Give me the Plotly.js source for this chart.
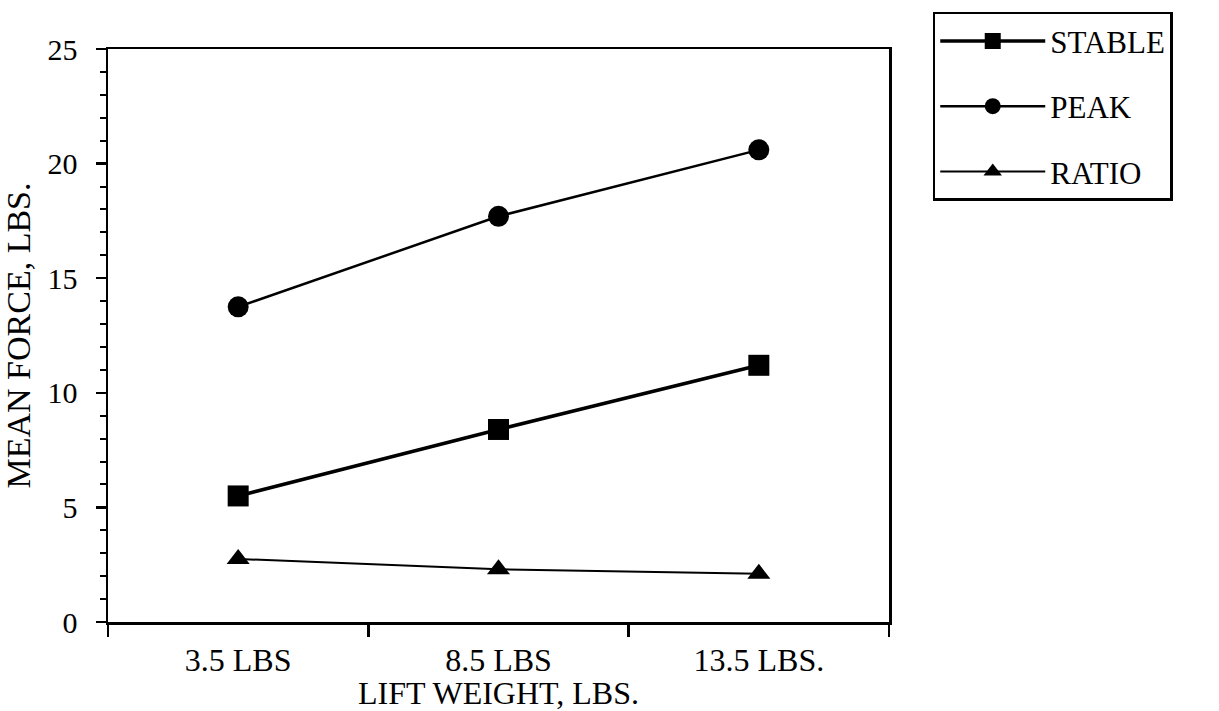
<!DOCTYPE html>
<html>
<head>
<meta charset="utf-8">
<script src="https://cdn.plot.ly/plotly-3.0.1.min.js"></script>
<style>html,body{margin:0;padding:0;background:#fff;}#chart{width:1219px;height:711px;}</style>
</head>
<body>
<div id="chart"></div>
<script>
const categories = ["3.5 LBS", "8.5 LBS", "13.5 LBS."];
const stable = [5.5, 8.4, 11.2];
const peak = [13.75, 17.7, 20.6];
const ratio = [2.75, 2.3, 2.1];

const FONT = "Liberation Serif, Times New Roman, serif";

const traces = [
  {x: categories, y: stable, name: "STABLE", mode: "lines+markers", legendgroup: "a",
   line: {color: "#000", width: 3.5}, marker: {symbol: "square", size: 21, color: "#000"}},
  {x: categories, y: peak, name: "PEAK", mode: "lines+markers", legendgroup: "b",
   line: {color: "#000", width: 2.5}, marker: {symbol: "circle", size: 21, color: "#000"}},
  {x: categories, y: ratio, name: "RATIO", mode: "lines+markers", legendgroup: "c",
   line: {color: "#000", width: 2}, marker: {symbol: "triangle-up", size: 20, color: "#000"}}
];

const layout = {
  width: 1219, height: 711,
  margin: {l: 108, r: 330, t: 40, b: 89},
  paper_bgcolor: "#fff", plot_bgcolor: "#fff",
  font: {family: FONT, size: 32, color: "#000"},
  showlegend: true,
  legend: {
    x: 1.056, y: 1.065, xanchor: "left", yanchor: "top",
    bordercolor: "#000", borderwidth: 2.5, bgcolor: "#fff",
    font: {family: FONT, size: 31, color: "#000"},
    itemwidth: 105, traceorder: "grouped", tracegroupgap: 22,
    entrywidth: 170, entrywidthmode: "pixels"
  },
  xaxis: {
    type: "category", range: [-0.5, 2.5],
    tickson: "boundaries", ticks: "outside", ticklen: 12, tickwidth: 2.5, tickcolor: "#000",
    showline: true, linewidth: 2.5, linecolor: "#000", mirror: true,
    showgrid: false, zeroline: false,
    tickfont: {family: FONT, size: 32},
    ticklabelstandoff: 8,
    title: {text: "LIFT WEIGHT, LBS.", font: {family: FONT, size: 32}, standoff: 0}
  },
  yaxis: {
    range: [0, 25], dtick: 5, ticks: "outside", ticklen: 10, tickwidth: 2.5, tickcolor: "#000",
    minor: {dtick: 1, ticks: "outside", ticklen: 6, tickwidth: 2, tickcolor: "#000", showgrid: false},
    showline: true, linewidth: 2.5, linecolor: "#000", mirror: true,
    showgrid: false, zeroline: false,
    tickfont: {family: FONT, size: 30},
    ticklabelstandoff: 12,
    title: {text: "MEAN FORCE, LBS.", font: {family: FONT, size: 34}, standoff: 10}
  }
};

Plotly.newPlot("chart", traces, layout, {displayModeBar: false, staticPlot: true});
</script>
</body>
</html>
